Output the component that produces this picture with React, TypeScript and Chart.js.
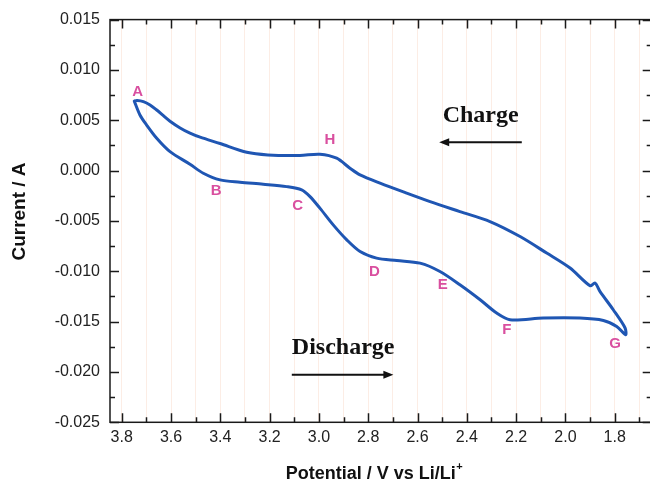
import React, { useEffect, useRef } from "react";
import { Chart, registerables } from "chart.js";
Chart.register(...registerables);

// Discharge branch (A -> G), potential in V, current in A
const dischargeV = [3.749, 3.726, 3.699, 3.658, 3.604, 3.523, 3.469, 3.401, 3.32, 3.226, 3.131, 3.07, 3.036, 2.996, 2.942, 2.887, 2.833, 2.766, 2.684, 2.59, 2.509, 2.428, 2.346, 2.279, 2.225, 2.09, 1.941, 1.846, 1.792, 1.756];
const dischargeI = [0.0069, 0.00553, 0.00453, 0.00321, 0.00188, 0.00063, -0.00026, -0.00092, -0.00115, -0.00135, -0.00159, -0.00191, -0.00258, -0.00373, -0.00539, -0.00688, -0.00804, -0.00869, -0.00893, -0.00919, -0.01002, -0.01134, -0.01283, -0.01415, -0.01481, -0.01464, -0.01464, -0.01488, -0.01548, -0.0163];
// Charge branch (G -> H -> A)
const chargeV = [1.758, 1.806, 1.86, 1.88, 1.9, 1.981, 2.076, 2.184, 2.306, 2.428, 2.549, 2.644, 2.752, 2.833, 2.874, 2.928, 2.996, 3.077, 3.207, 3.293, 3.401, 3.482, 3.523, 3.563, 3.604, 3.632, 3.658, 3.685, 3.712, 3.738, 3.749];
const chargeI = [-0.01563, -0.01382, -0.012, -0.01117, -0.01144, -0.00968, -0.00819, -0.00655, -0.00506, -0.00407, -0.00308, -0.00224, -0.00125, -0.00043, 0.00024, 0.00123, 0.00163, 0.00151, 0.00156, 0.00182, 0.00269, 0.00332, 0.00372, 0.00424, 0.00491, 0.00548, 0.00602, 0.00652, 0.00685, 0.00696, 0.0069];

// Point labels
const labelNames = ["A", "B", "C", "D", "E", "F", "G", "H"];
const labelV = [3.735, 3.417, 3.086, 2.775, 2.498, 2.238, 1.799, 2.955];
const labelI = [0.00784, -0.00201, -0.00347, -0.01008, -0.01134, -0.0158, -0.01722, 0.00305];

// Axis ticks
const xTickValues = [1.7, 1.8, 1.9, 2.0, 2.1, 2.2, 2.3, 2.4, 2.5, 2.6, 2.7, 2.8, 2.9, 3.0, 3.1, 3.2, 3.3, 3.4, 3.5, 3.6, 3.7, 3.8];
const yTickValues = [-0.025, -0.0225, -0.02, -0.0175, -0.015, -0.0125, -0.01, -0.0075, -0.005, -0.0025, 0, 0.0025, 0.005, 0.0075, 0.01, 0.0125, 0.015];

const X_MIN = 1.65;
const X_MAX = 3.8475;
const Y_MIN = -0.025;
const Y_MAX = 0.015;

// Annotations (in data coordinates)
const chargeText = { text: "Charge", v: 2.498, i: 0.00486 };
const chargeArrow = { from: 2.177, to: 2.512, i: 0.00282 };
const dischargeText = { text: "Discharge", v: 3.11, i: -0.01818 };
const dischargeArrow = { from: 3.11, to: 2.698, i: -0.02027 };

const isMajorX = (v: number) => Math.round(v * 10) % 2 === 0;
const isMajorY = (v: number) => Math.abs(v * 200 - Math.round(v * 200)) < 1e-6;

const LINE_BLUE = "#1f56b3";
const PINK = "#d94f9f";

const decorPlugin = {
  id: "decor",
  afterDraw(chart: any) {
    const { ctx, chartArea: ca, scales } = chart;
    const x = scales.x;
    const y = scales.y;
    ctx.save();
    // frame
    ctx.strokeStyle = "#1a1a1a";
    ctx.lineWidth = 1.5;
    ctx.strokeRect(ca.left, ca.top, ca.right - ca.left, ca.bottom - ca.top);
    // inward ticks
    ctx.lineWidth = 1.5;
    ctx.beginPath();
    xTickValues.forEach((v) => {
      const px = Math.round(x.getPixelForValue(v)) + 0.5;
      const len = isMajorX(v) ? 9 : 5;
      ctx.moveTo(px, ca.bottom);
      ctx.lineTo(px, ca.bottom - len);
      ctx.moveTo(px, ca.top);
      ctx.lineTo(px, ca.top + len);
    });
    yTickValues.forEach((v) => {
      const py = Math.round(y.getPixelForValue(v)) + 0.5;
      const len = isMajorY(v) ? 9 : 5;
      ctx.moveTo(ca.left, py);
      ctx.lineTo(ca.left + len, py);
      ctx.moveTo(ca.right, py);
      ctx.lineTo(ca.right - len, py);
    });
    ctx.stroke();

    // point labels
    ctx.fillStyle = PINK;
    ctx.font = 'bold 15px "Liberation Sans", Arial, sans-serif';
    ctx.textAlign = "center";
    ctx.textBaseline = "middle";
    labelNames.forEach((n, k) => {
      ctx.fillText(n, x.getPixelForValue(labelV[k]), y.getPixelForValue(labelI[k]));
    });

    // Charge / Discharge annotations
    ctx.fillStyle = "#111";
    ctx.font = 'bold 24px "Liberation Serif", "Times New Roman", serif';
    ctx.textAlign = "left";
    ctx.textBaseline = "alphabetic";
    ctx.fillText(chargeText.text, x.getPixelForValue(chargeText.v), y.getPixelForValue(chargeText.i));
    ctx.fillText(dischargeText.text, x.getPixelForValue(dischargeText.v), y.getPixelForValue(dischargeText.i));

    const arrow = (a: { from: number; to: number; i: number }) => {
      const x0 = x.getPixelForValue(a.from);
      const x1 = x.getPixelForValue(a.to);
      const yy = y.getPixelForValue(a.i);
      const dir = Math.sign(x1 - x0);
      ctx.strokeStyle = "#111";
      ctx.lineWidth = 2;
      ctx.beginPath();
      ctx.moveTo(x0, yy);
      ctx.lineTo(x1 - dir * 6, yy);
      ctx.stroke();
      ctx.fillStyle = "#111";
      ctx.beginPath();
      ctx.moveTo(x1, yy);
      ctx.lineTo(x1 - dir * 10, yy - 4);
      ctx.lineTo(x1 - dir * 10, yy + 4);
      ctx.closePath();
      ctx.fill();
    };
    arrow(chargeArrow);
    arrow(dischargeArrow);

    // axis titles
    ctx.fillStyle = "#111";
    ctx.font = 'bold 19px "Liberation Sans", Arial, sans-serif';
    ctx.textAlign = "center";
    ctx.textBaseline = "middle";
    ctx.save();
    ctx.translate(20, 211.5);
    ctx.rotate(-Math.PI / 2);
    ctx.fillText("Current / A", 0, 0);
    ctx.restore();

    const main = "Potential / V vs Li/Li";
    ctx.font = 'bold 18px "Liberation Sans", Arial, sans-serif';
    const w1 = ctx.measureText(main).width;
    ctx.font = 'bold 11px "Liberation Sans", Arial, sans-serif';
    const w2 = ctx.measureText("+").width;
    const startX = 374 - (w1 + w2) / 2;
    ctx.textAlign = "left";
    ctx.textBaseline = "alphabetic";
    ctx.font = 'bold 18px "Liberation Sans", Arial, sans-serif';
    ctx.fillText(main, startX, 479);
    ctx.font = 'bold 11px "Liberation Sans", Arial, sans-serif';
    ctx.fillText("+", startX + w1 + 0.5, 470);
    ctx.restore();
  },
};

export default function App() {
  const ref = useRef<HTMLCanvasElement>(null);
  useEffect(() => {
    if (!ref.current) return;
    const pts = [
      ...dischargeV.map((v, k) => ({ x: v, y: dischargeI[k] })),
      ...chargeV.map((v, k) => ({ x: v, y: chargeI[k] })),
    ];
    const chart = new Chart(ref.current, {
      type: "scatter",
      data: {
        datasets: [
          {
            data: pts,
            showLine: true,
            borderColor: LINE_BLUE,
            borderWidth: 3,
            pointRadius: 0,
            tension: 0.3,
            borderJoinStyle: "round",
            borderCapStyle: "round",
            fill: false,
          } as any,
        ],
      },
      options: {
        animation: false,
        responsive: false,
        devicePixelRatio: 1,
        layout: { padding: { top: 19.5, right: 8.3, left: 0, bottom: 0 } },
        plugins: { legend: { display: false }, tooltip: { enabled: false } },
        scales: {
          x: {
            type: "linear",
            reverse: true,
            min: X_MIN,
            max: X_MAX,
            afterBuildTicks: (s: any) => {
              s.ticks = xTickValues.map((v) => ({ value: v }));
            },
            afterFit: (s: any) => {
              s.height = 58.7;
            },
            grid: { color: "#fcede5", lineWidth: 1, drawTicks: false, drawOnChartArea: true },
            border: { display: false },
            ticks: {
              autoSkip: false,
              maxRotation: 0,
              padding: 6,
              color: "#222",
              font: { family: '"Liberation Sans", Arial, sans-serif', size: 16 },
              callback: (v: any) => (isMajorX(Number(v)) ? Number(v).toFixed(1) : ""),
            },
          },
          y: {
            type: "linear",
            min: Y_MIN,
            max: Y_MAX,
            afterBuildTicks: (s: any) => {
              s.ticks = yTickValues.map((v) => ({ value: v }));
            },
            afterFit: (s: any) => {
              s.width = 110;
            },
            grid: { display: false, drawTicks: false },
            border: { display: false },
            ticks: {
              autoSkip: false,
              padding: 10,
              color: "#222",
              font: { family: '"Liberation Sans", Arial, sans-serif', size: 16 },
              callback: (v: any) => (isMajorY(Number(v)) ? Number(v).toFixed(3) : ""),
            },
          },
        },
      },
      plugins: [decorPlugin],
    });
    return () => chart.destroy();
  }, []);
  return (
    <div style={{ position: "fixed", left: 0, top: 0, width: 650, height: 481, overflow: "hidden", background: "#fff" }}>
      <canvas ref={ref} width={660} height={481} style={{ display: "block", width: 660, height: 481 }} />
    </div>
  );
}
